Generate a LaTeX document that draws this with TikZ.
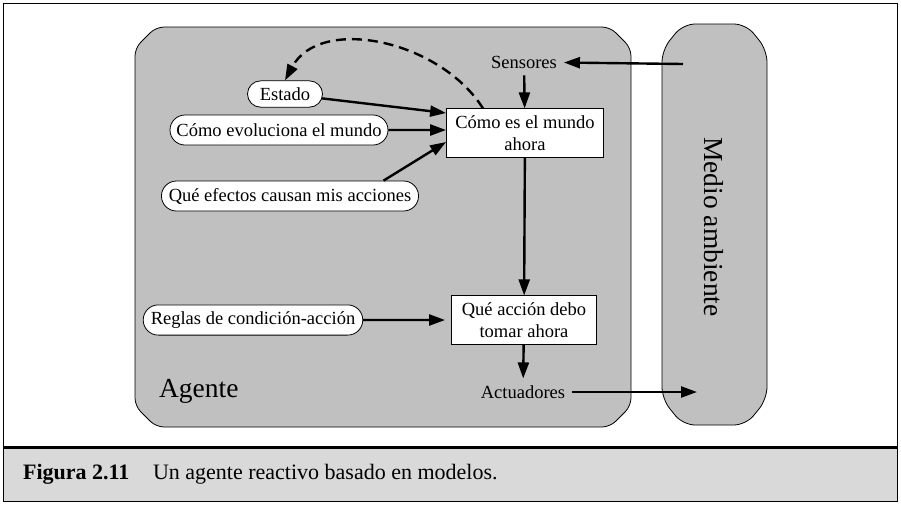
\documentclass[tikz,border=0pt]{standalone}
\usepackage{fontspec}
\setmainfont{Liberation Serif}
\usetikzlibrary{positioning, shapes.misc, arrows.meta}

\tikzset{
    belief/.style={rounded rectangle, draw, fill=white, thin, inner xsep=2.5pt, minimum height=15pt, font=\fontsize{9.25}{11}\selectfont},
    proc/.style={rectangle, draw, fill=white, thin, align=center, font=\fontsize{9.25}{11}\selectfont},
    plain/.style={font=\fontsize{9.25}{11}\selectfont},
    flow/.style={-{Triangle[length=8pt, width=5.5pt]}, line width=1.2pt},
}
\definecolor{boxgray}{RGB}{192,192,192}
\definecolor{capgray}{RGB}{217,217,217}

\begin{document}
\begin{tikzpicture}[x=0.5pt, y=-0.5pt]
        \useasboundingbox (0,0) rectangle (901,505);
        % frame and caption
        \fill[capgray] (3,447) rectangle (897,501);
        \draw[thin] (3,3) rectangle (897,501);
        \draw[line width=1.5pt] (3,447) -- (897,447);
        \node[anchor=west, font=\fontsize{11}{13}\selectfont\bfseries] (fig) at (16,474) {Figura 2.11};
        \node[anchor=west, font=\fontsize{11}{13}\selectfont] (cap) at (146,474) {Un agente reactivo basado en modelos.};

        % agent and environment
        \draw[fill=boxgray, thin, rounded corners=4pt]
            (156,27) -- (610,27) -- (631,48) -- (631,406) -- (610,427)
            -- (156,427) -- (135,406) -- (135,48) -- cycle;
        \draw[fill=boxgray, thin, rounded corners=6pt]
            (683,24) -- (746,24) -- (767,50) -- (767,399) -- (746,425)
            -- (683,425) -- (662,399) -- (662,50) -- cycle;
        \node[anchor=west, font=\fontsize{13.75}{16}\selectfont] (agente) at (152,391) {Agente};
        \node[rotate=-90, font=\fontsize{13.75}{16}\selectfont] (medio) at (714,227) {Medio ambiente};

        \node[belief, minimum height=11.5pt, minimum width=42.5pt] (estado) at (285,94) {Estado};
        \node[belief]  (evol)    at (279,130) {Cómo evoluciona el mundo};
        \node[belief]  (efectos) at (290,196) {Qué efectos causan mis acciones};
        \node[belief]  (reglas)  at (253,320) {Reglas de condición-acción};
        \node[proc, minimum width=78.5pt, minimum height=23pt]   (mundo)  at (525,133) {Cómo es el mundo\\ahora};
        \node[proc, minimum width=72.5pt, minimum height=21.5pt] (accion) at (524,320) {Qué acción debo\\tomar ahora};
        \node[plain]   (sens)    at (524,62)  {Sensores};
        \node[plain]   (act)     at (523,392) {Actuadores};
        \coordinate (envin)  at (683,64);
        \coordinate (envout) at (697,392);

        \path[flow]
        (estado) edge ([yshift=10pt]mundo.west)
        (evol) edge (mundo.west |- evol)
        ([xshift=-10pt]efectos.north east) edge ([yshift=-4.5pt]mundo.west)
        (reglas) edge ([xshift=-3pt]accion.west)
        (envin) edge (sens)
        (sens) edge (mundo)
        (mundo) edge (accion)
        (accion) edge (act)
        (act) edge (envout)
        ;
        \draw[flow, dashed, line width=1.2pt, dash pattern=on 5pt off 3pt]
            ([xshift=-21pt]mundo.north) .. controls (440,40) and (320,15) .. (estado.north);
    \end{tikzpicture}
\end{document}
